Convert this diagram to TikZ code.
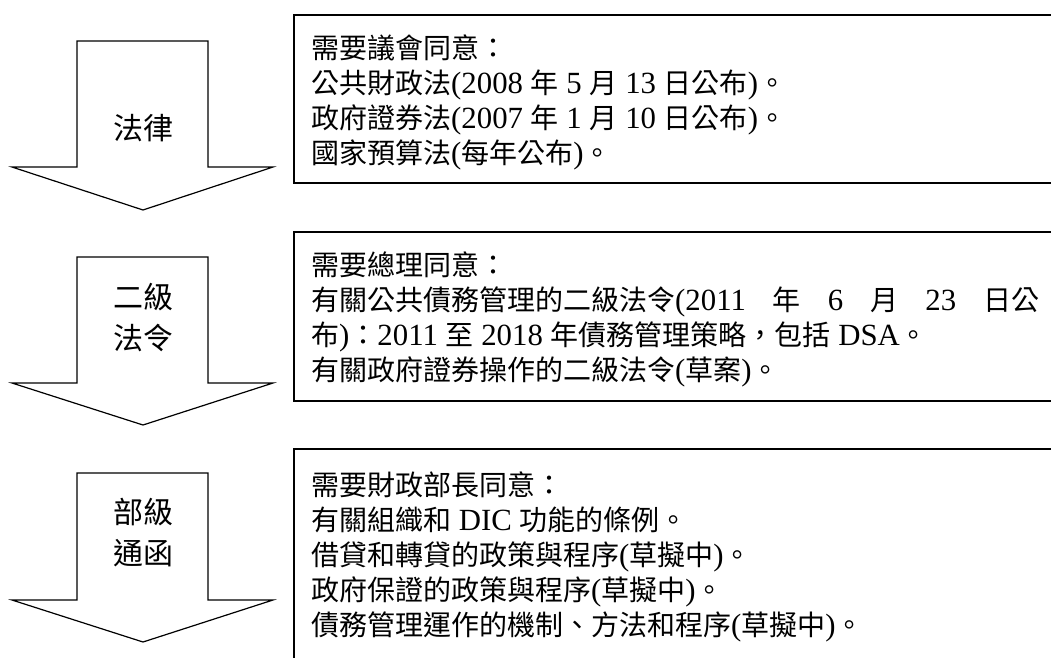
\documentclass[tikz,border=0pt]{standalone}
\usepackage{fontspec}
\setmainfont{Noto Sans CJK TC}
\newfontfamily\latfont[Scale=1.1]{Liberation Serif}
\newcommand\en[1]{{\latfont #1}}
\tikzset{
  downarrow/.style={draw=black, line width=1.2pt, line join=miter, fill=white},
  infobox/.style={draw=black, line width=1.4pt},
  boxtext/.style={anchor=north west, inner sep=0pt, align=left, font=\fontsize{28}{35}\selectfont},
  arrowlabel/.style={inner sep=0pt, align=center, font=\fontsize{30}{41}\selectfont},
}
\begin{document}
\begin{tikzpicture}[x=1pt, y=-1pt]
\clip (0,0) rectangle (1051,657);
\fill[white] (0,0) rectangle (1051,657);

% arrows
\draw[downarrow] (77,41) -- (208,41) -- (208,167) -- (273,167) -- (143,210) -- (12,167) -- (77,167) -- cycle;
\draw[downarrow] (77,257) -- (208,257) -- (208,383) -- (273,383) -- (143,425) -- (12,383) -- (77,383) -- cycle;
\draw[downarrow] (77,473) -- (208,473) -- (208,600) -- (273,600) -- (143,642) -- (12,600) -- (77,600) -- cycle;

\node[arrowlabel] (law) at (143,128) {法律};
\node[arrowlabel] (sec) at (143,317.5) {二級\\法令};
\node[arrowlabel] (min) at (143,532.5) {部級\\通函};

% boxes
\draw[infobox] (294,15) rectangle (1070,183);
\draw[infobox] (294,232) rectangle (1070,401);
\draw[infobox] (294,449) rectangle (1070,700);

\node[boxtext] (t1) at (311,35) {需要議會同意：\\
公共財政法\en{(2008 }年\en{ 5 }月\en{ 13 }日公布\en{)}。\\
政府證券法\en{(2007 }年\en{ 1 }月\en{ 10 }日公布\en{)}。\\
國家預算法\en{(}每年公布\en{)}。};

\node[boxtext] (t2) at (311,252) {需要總理同意：\\
\makebox[728pt][s]{有關公共債務管理的二級法令\en{(2011 }年\en{ 6 }月\en{ 23 }日公}\\
布\en{)}：\en{2011 }至\en{ 2018 }年債務管理策略，包括\en{ DSA}。\\
有關政府證券操作的二級法令\en{(}草案\en{)}。};

\node[boxtext] (t3) at (311,472) {需要財政部長同意：\\
有關組織和\en{ DIC }功能的條例。\\
借貸和轉貸的政策與程序\en{(}草擬中\en{)}。\\
政府保證的政策與程序\en{(}草擬中\en{)}。\\
債務管理運作的機制、方法和程序\en{(}草擬中\en{)}。};
\end{tikzpicture}
\end{document}
